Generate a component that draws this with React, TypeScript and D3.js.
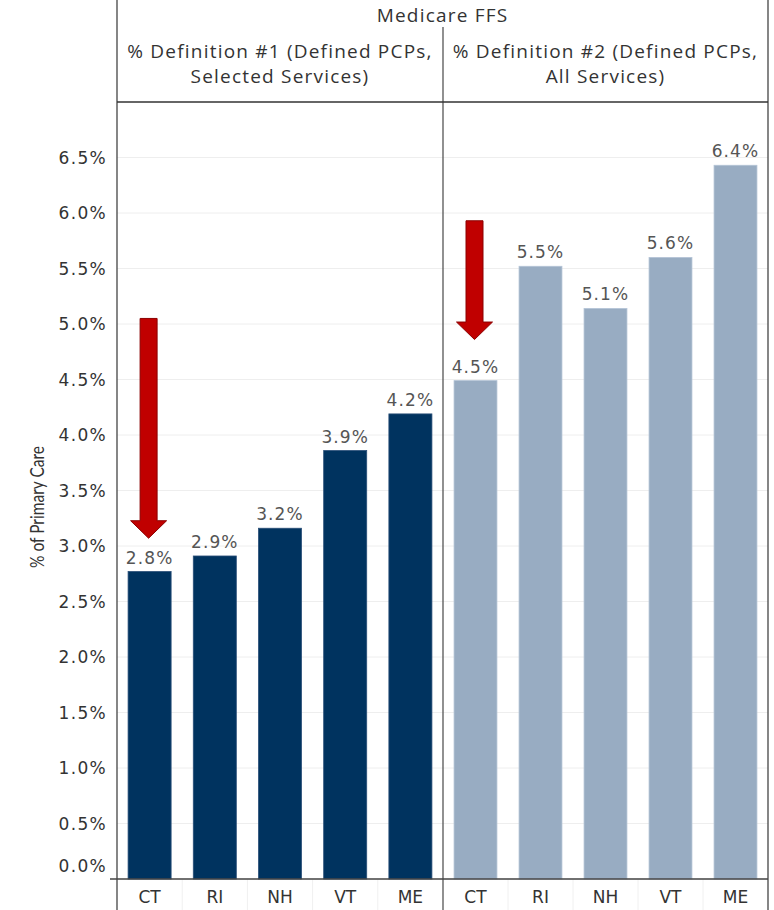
import React from "react";
import * as d3 from "d3";

const states = ["CT", "RI", "NH", "VT", "ME"];
const def1Values = [2.77, 2.91, 3.16, 3.86, 4.19];
const def2Values = [4.49, 5.52, 5.14, 5.6, 6.43];
const def1Labels = ["2.8%", "2.9%", "3.2%", "3.9%", "4.2%"];
const def2Labels = ["4.5%", "5.5%", "5.1%", "5.6%", "6.4%"];
const yTicks = [0, 0.5, 1, 1.5, 2, 2.5, 3, 3.5, 4, 4.5, 5, 5.5, 6, 6.5];
const panelTitles = [
  ["% Definition #1 (Defined PCPs,", "Selected Services)"],
  ["% Definition #2 (Defined PCPs,", "All Services)"],
];
const topTitle = "Medicare FFS";
const yTitle = "% of Primary Care";
// arrows: [panel, category, from value, to value]
const arrows: [number, string, number, number][] = [
  [0, "CT", 5.05, 3.07],
  [1, "CT", 5.93, 4.86],
];

const W = 774;
const H = 910;
const left = 117;
const mid = 443;
const right = 768;
const headerBottom = 102;
const base = 879;

export default function App() {
  const y = d3.scaleLinear().domain([0, 7]).range([base, headerBottom]);
  const panels = [
    { x0: left, x1: mid, values: def1Values, labels: def1Labels, color: "#00335f", stroke: "#2a4f78" },
    { x0: mid, x1: right, values: def2Values, labels: def2Labels, color: "#98acc2", stroke: "#b4c4d6" },
  ];
  const xScales = panels.map((p) =>
    d3.scaleBand().domain(states).range([p.x0, p.x1]).paddingInner(0.34).paddingOuter(0.17)
  );
  const font = "'DejaVu Sans', Verdana, sans-serif";
  const hfont = "'Open Sans', Lato, sans-serif";
  return (
    <svg width={W} height={H} style={{ position: "absolute", left: 0, top: 0, background: "#fff" }}>
      {/* gridlines */}
      {yTicks.map((t) => (
        <line key={"g" + t} x1={left} x2={right} y1={y(t)} y2={y(t)} stroke="#eeeeee" strokeWidth={1} />
      ))}
      {/* y tick labels */}
      {yTicks.map((t) => (
        <text
          key={"t" + t}
          x={107}
          y={t === 0 ? y(t) - 13 : y(t)}
          dy="0.36em"
          textAnchor="end"
          fontFamily={font}
          fontSize={17}
          letterSpacing={1.3}
          fill="#333"
        >
          {d3.format(".1f")(t) + "%"}
        </text>
      ))}
      <text
        transform={`translate(44,507) rotate(-90)`}
        textAnchor="middle"
        fontFamily="Lato, sans-serif"
        fontSize={19}
        textLength={122}
        lengthAdjust="spacingAndGlyphs"
        fill="#333"
      >
        {yTitle}
      </text>
      {/* bars */}
      {panels.map((p, pi) =>
        states.map((s, i) => {
          const x = xScales[pi];
          return (
            <g key={pi + s}>
              <rect
                x={x(s)!}
                y={y(p.values[i])}
                width={x.bandwidth()}
                height={base - y(p.values[i])}
                fill={p.color}
                stroke={p.stroke}
                strokeWidth={0.8}
              />
              <text
                x={x(s)! + x.bandwidth() / 2}
                y={y(p.values[i]) - 8}
                textAnchor="middle"
                fontFamily={font}
                fontSize={17}
                letterSpacing={1.1}
                fill="#555"
              >
                {p.labels[i]}
              </text>
            </g>
          );
        })
      )}
      {/* x labels and faint separators */}
      {panels.map((p, pi) =>
        states.map((s, i) => {
          const x = xScales[pi];
          const cx = x(s)! + x.bandwidth() / 2;
          const step = x.step();
          return (
            <g key={"x" + pi + s}>
              {i > 0 && (
                <line x1={cx - step / 2} x2={cx - step / 2} y1={base} y2={H} stroke="#f0f0f0" />
              )}
              <text
                x={cx}
                y={897}
                dy="0.36em"
                textAnchor="middle"
                fontFamily={font}
                fontSize={17}
                fill="#333"
              >
                {s}
              </text>
            </g>
          );
        })
      )}
      {/* arrows */}
      {arrows.map(([pi, cat, from, to], k) => {
        const x = xScales[pi];
        const cx = x(cat)! + x.bandwidth() / 2 - 1;
        const yTop = y(from);
        const yTip = y(to);
        const sw = 8.5;
        const hw = 18;
        const hl = 17.5;
        const d = [
          [cx - sw, yTop],
          [cx + sw, yTop],
          [cx + sw, yTip - hl],
          [cx + hw, yTip - hl],
          [cx, yTip],
          [cx - hw, yTip - hl],
          [cx - sw, yTip - hl],
        ];
        return (
          <path
            key={"a" + k}
            d={"M" + d.map((p) => p.join(",")).join("L") + "Z"}
            fill="#c00000"
            stroke="#8c0000"
            strokeWidth={1}
          />
        );
      })}
      {/* frame */}
      <line x1={left} x2={left} y1={0} y2={H} stroke="#444" strokeWidth={1.3} />
      <line x1={right} x2={right} y1={0} y2={H} stroke="#444" strokeWidth={1.3} />
      <line x1={mid} x2={mid} y1={27} y2={H} stroke="#555" strokeWidth={1.3} />
      <line x1={left} x2={right} y1={headerBottom} y2={headerBottom} stroke="#333" strokeWidth={1.5} />
      <line x1={110} x2={right} y1={base} y2={base} stroke="#444" strokeWidth={1.3} />
      {/* headers */}
      <text
        x={(left + right) / 2}
        y={22}
        textAnchor="middle"
        fontFamily={hfont}
        fontSize={19}
        letterSpacing={1.2}
        fill="#333"
      >
        {topTitle}
      </text>
      {panelTitles.map((lines, pi) => {
        const cx = (panels[pi].x0 + panels[pi].x1) / 2;
        return lines.map((ln, li) => (
          <text
            key={"h" + pi + li}
            x={cx}
            y={58 + li * 25}
            textAnchor="middle"
            fontFamily={hfont}
            fontSize={19}
            letterSpacing={1.2}
            fill="#333"
          >
            {ln}
          </text>
        ));
      })}
    </svg>
  );
}
